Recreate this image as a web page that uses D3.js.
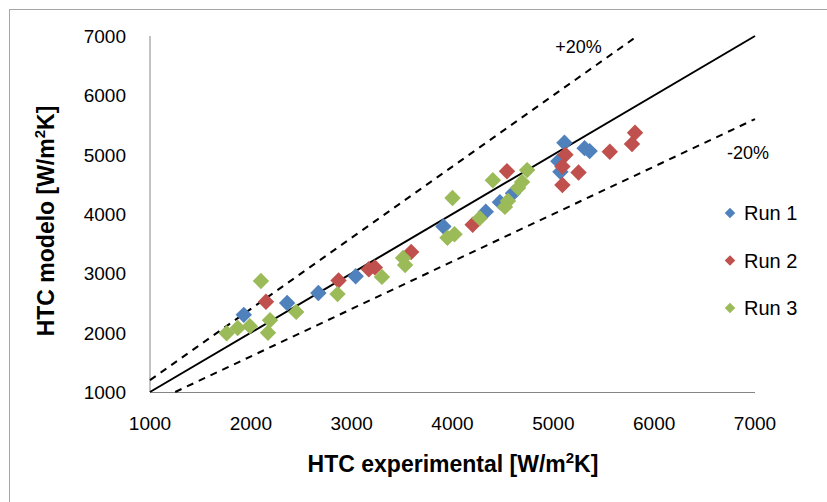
<!DOCTYPE html>
<html>
<head>
<meta charset="utf-8">
<script src="https://cdn.jsdelivr.net/npm/d3@7"></script>
<style>
  html, body { margin: 0; padding: 0; background: #fff; }
  svg text { font-family: "Liberation Sans", Arial, sans-serif; fill: #000; }
</style>
</head>
<body>
<div id="chart"></div>
<script>
// values: [HTC experimental, HTC modelo]
const run1 = [
  [1930, 2300], [2360, 2500], [2670, 2670], [3040, 2950], [3910, 3790],
  [4330, 4040], [4470, 4200], [4600, 4350], [5110, 5200], [5310, 5110],
  [5360, 5060], [5050, 4890], [5070, 4710]
];
const run2 = [
  [2150, 2520], [2870, 2880], [3170, 3070], [3230, 3100], [3590, 3360],
  [4200, 3820], [4540, 4720], [5120, 5000], [5090, 4800], [5250, 4700],
  [5090, 4490], [5560, 5050], [5810, 5370], [5780, 5180]
];
const run3 = [
  [1760, 1990], [1870, 2080], [1990, 2110], [2100, 2870], [2170, 2000],
  [2190, 2210], [2450, 2350], [2860, 2650], [3300, 2940], [3510, 3260],
  [3530, 3140], [4000, 4270], [3950, 3600], [4020, 3660], [4400, 4570],
  [4270, 3930], [4520, 4120], [4550, 4220], [4650, 4440], [4690, 4540],
  [4740, 4740]
];
const seriesNames = ["Run 1", "Run 2", "Run 3"];
const seriesColors = ["#4F81BD", "#C0504D", "#9BBB59"];
const ticks = [1000, 2000, 3000, 4000, 5000, 6000, 7000];
// reference lines y = factor * x
const refFactors = [1, 1.2, 0.8];
const refLabels = ["", "+20%", "-20%"];

const width = 827, height = 502;
const margin = { top: 36, right: 72, bottom: 110, left: 150 };

const svg = d3.select("#chart").append("svg")
  .attr("width", width)
  .attr("height", height);

// outer chart frame
svg.append("rect")
  .attr("x", 9.5).attr("y", 9.5)
  .attr("width", 900).attr("height", 700)
  .attr("fill", "none")
  .attr("stroke", "#a6a6a6")
  .attr("stroke-width", 1);

const x = d3.scaleLinear().domain([1000, 7000]).range([margin.left, width - margin.right]);
const y = d3.scaleLinear().domain([1000, 7000]).range([height - margin.bottom, margin.top]);

// axes
svg.append("line")
  .attr("x1", x(1000)).attr("x2", x(1000))
  .attr("y1", y(7000)).attr("y2", y(1000))
  .attr("stroke", "#868686");
svg.append("line")
  .attr("x1", x(1000)).attr("x2", x(7000))
  .attr("y1", y(1000) + 0.5).attr("y2", y(1000) + 0.5)
  .attr("stroke", "#868686");

svg.append("g").selectAll("text")
  .data(ticks).join("text")
  .attr("x", 126)
  .attr("y", d => y(d))
  .attr("dy", "0.36em")
  .attr("text-anchor", "end")
  .attr("font-size", 19)
  .text(d => d);

svg.append("g").selectAll("text")
  .data(ticks).join("text")
  .attr("x", d => x(d))
  .attr("y", y(1000) + 38)
  .attr("text-anchor", "middle")
  .attr("font-size", 19)
  .text(d => d);

// reference lines
const refs = refFactors.map((f, i) => {
  const x0 = Math.max(1000, 1000 / f), x1 = Math.min(7000, 7000 / f);
  return { f, label: refLabels[i], x0, x1 };
});
svg.append("g").selectAll("line")
  .data(refs).join("line")
  .attr("x1", d => x(d.x0)).attr("y1", d => y(d.f * d.x0))
  .attr("x2", d => x(d.x1)).attr("y2", d => y(d.f * d.x1))
  .attr("stroke", "#000")
  .attr("stroke-width", 2)
  .attr("stroke-dasharray", d => d.f === 1 ? null : "7,6");

svg.append("text")
  .attr("x", x(5250)).attr("y", y(6720))
  .attr("text-anchor", "middle")
  .attr("font-size", 18)
  .text(refLabels[1]);
svg.append("text")
  .attr("x", x(6930)).attr("y", y(4930))
  .attr("text-anchor", "middle")
  .attr("font-size", 18)
  .text(refLabels[2]);

// points
const diamond = (size) => d3.symbol(d3.symbolSquare, size)();
const allSeries = [run1, run2, run3];
allSeries.forEach((pts, i) => {
  svg.append("g").selectAll("path")
    .data(pts).join("path")
    .attr("d", diamond(135))
    .attr("transform", d => `translate(${x(d[0])},${y(d[1])}) rotate(45)`)
    .attr("fill", seriesColors[i]);
});

// legend
const legend = svg.append("g").selectAll("g")
  .data(seriesNames).join("g")
  .attr("transform", (d, i) => `translate(730,${213 + i * 47.5})`);
legend.append("path")
  .attr("d", diamond(55))
  .attr("transform", "rotate(45)")
  .attr("fill", (d, i) => seriesColors[i]);
legend.append("text")
  .attr("x", 14)
  .attr("dy", "0.36em")
  .attr("font-size", 20)
  .text(d => d);

// axis titles
const xt = svg.append("text")
  .attr("x", 453).attr("y", 472)
  .attr("text-anchor", "middle")
  .attr("font-size", 23)
  .attr("font-weight", "bold");
xt.append("tspan").text("HTC experimental [W/m");
xt.append("tspan").attr("dy", -9).attr("font-size", 15).text("2");
xt.append("tspan").attr("dy", 9).text("K]");

const yt = svg.append("text")
  .attr("transform", "translate(54,221) rotate(-90)")
  .attr("text-anchor", "middle")
  .attr("font-size", 23)
  .attr("font-weight", "bold");
yt.append("tspan").text("HTC modelo [W/m");
yt.append("tspan").attr("dy", -9).attr("font-size", 15).text("2");
yt.append("tspan").attr("dy", 9).text("K]");
</script>
</body>
</html>
